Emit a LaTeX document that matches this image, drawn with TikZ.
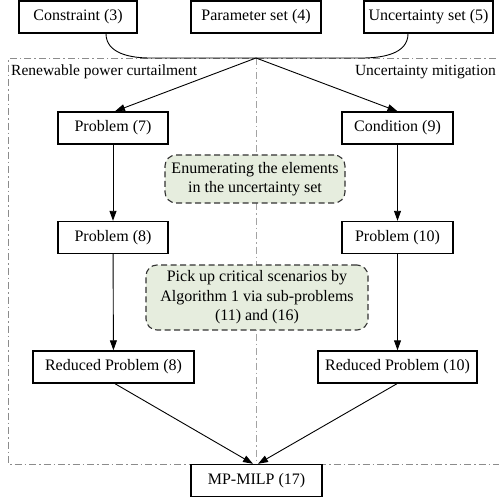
\documentclass[tikz,border=0pt]{standalone}
\usepackage{fontspec}
\setmainfont{Liberation Serif}
\usetikzlibrary{arrows.meta,calc}
\definecolor{greenfill}{RGB}{230,237,222}
\definecolor{framegray}{RGB}{140,140,140}
\tikzset{
  box/.style={draw=black, line width=1.4bp, minimum height=32bp, inner sep=0pt, font=\fontsize{16bp}{19.5bp}\selectfont},
  notebox/.style={draw=black!80, line width=1.1bp, dash pattern=on 6bp off 3.5bp, rounded corners=11bp, fill=greenfill, align=center, inner sep=0pt, font=\fontsize{16bp}{19.5bp}\selectfont},
  arr/.style={line width=0.9bp, -{Triangle[length=10bp,width=7bp]}},
  framestyle/.style={draw=framegray, line width=1bp, dash pattern=on 7bp off 3bp on 1.5bp off 3bp},
  sidelabel/.style={inner sep=0pt, font=\fontsize{15.5bp}{18bp}\selectfont},
}
\begin{document}
\begin{tikzpicture}[x=1bp,y=-1bp]
\useasboundingbox (0,0) rectangle (499,499);
% frame and centre line
\draw[framestyle] (510,59) -- (8,59) -- (8,464) -- (510,464);
\draw[framestyle, draw=framegray!80] (256,58) -- (256,464);
% side labels
\node[sidelabel, anchor=west] (lblL) at (11,72) {Renewable power curtailment};
\node[sidelabel, anchor=east] (lblR) at (496,72) {Uncertainty mitigation};
% top boxes
\node[box, minimum width=118bp] (con) at (78,17) {Constraint (3)};
\node[box, minimum width=130bp] (par) at (256,17) {Parameter set (4)};
\node[box, minimum width=129bp] (unc) at (428.5,17) {Uncertainty set (5)};
% junction curve
\coordinate (j) at (256,58);
\draw[line width=0.9bp] ([xshift=28bp]con.south) to[out=-90,in=180] (150,58) -- (j);
\draw[line width=0.9bp] ([xshift=-20.5bp]unc.south) to[out=-90,in=0] (362,58) -- (j);
% columns
\node[box, minimum width=110bp] (p7) at (113,128) {Problem (7)};
\node[box, minimum width=111bp] (c9) at (397.5,128) {Condition (9)};
\node[box, minimum width=110bp] (p8) at (113,237.5) {Problem (8)};
\node[box, minimum width=111bp] (p10) at (397.5,237.5) {Problem (10)};
\node[box, minimum width=161bp, fill=white] (r8) at (113.5,367) {Reduced Problem (8)};
\node[box, minimum width=159bp, fill=white] (r10) at (397.5,367) {Reduced Problem (10)};
\node[box, minimum width=131bp, fill=white] (mp) at (256.5,480.5) {MP-MILP (17)};
% notes
\node[notebox, minimum width=180bp, minimum height=48bp] (n1) at (255,179) {Enumerating the elements\\in the uncertainty set};
\node[notebox, minimum width=222bp, minimum height=65bp] (n2) at (257,297.5) {Pick up critical scenarios by\\Algorithm 1 via sub-problems\\(11) and (16)};
% arrows
\draw[arr] (j) -- ([xshift=2bp]p7.north);
\draw[arr] (j) -- (c9.north);
\draw[arr] (p7) -- (p8);
\draw[arr] (p8) -- (r8);
\draw[arr] (c9) -- (p10);
\draw[arr] (p10) -- (r10);
\draw[arr] ([xshift=1.5bp]r8.south) -- ([xshift=-3.5bp]mp.north);
\draw[arr] ([xshift=-0.5bp]r10.south) -- ([xshift=1.5bp]mp.north);
\end{tikzpicture}
\end{document}
